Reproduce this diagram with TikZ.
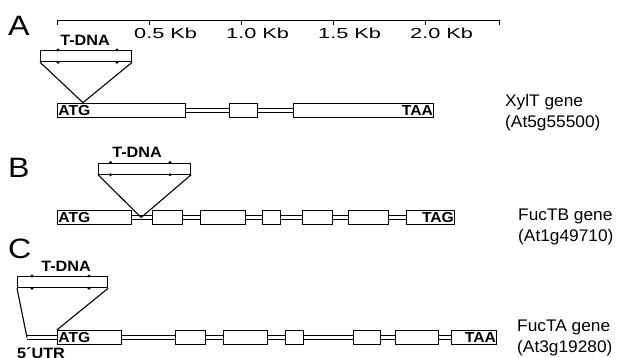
\documentclass[tikz,border=0pt]{standalone}
\usepackage{fontspec}
\setmainfont{Liberation Sans}
\newfontfamily\panelfont[FakeStretch=1.15]{Liberation Sans}
\newfontfamily\kbfont[FakeStretch=1.5]{Liberation Sans}
\newfontfamily\labfont[FakeStretch=1.08]{Liberation Sans}
\newfontfamily\genefont[FakeStretch=1.03]{Liberation Sans}
\usetikzlibrary{calc,backgrounds}

% an intron: two thin parallel lines between two exons
\newcommand{\intronlink}[2]{%
  \draw[intron] ([yshift=1.7pt]#1) -- ([yshift=1.7pt]#2);
  \draw[intron] ([yshift=-1.7pt]#1) -- ([yshift=-1.7pt]#2);}

\begin{document}
\begin{tikzpicture}[x=1pt,y=-1pt,
  exon/.style={draw, fill=white, line width=1.3pt, minimum height=14pt, inner sep=0pt, anchor=west},
  intron/.style={line width=0.9pt},
  tdna/.style={draw, line width=1.2pt, minimum height=11pt, inner sep=0pt, anchor=north west},
  ins/.style={line width=1.1pt},
  bar/.style={line width=1pt},
  kb/.style={font=\kbfont\fontsize{14.5}{16}\selectfont, anchor=base west, inner sep=0pt},
  panel/.style={font=\panelfont\fontsize{28}{30}\selectfont, anchor=base west, inner sep=0pt},
  tlabel/.style={font=\labfont\bfseries\fontsize{15}{17}\selectfont, anchor=base, inner sep=0pt},
  codon/.style={font=\labfont\bfseries\fontsize{14.5}{16}\selectfont, inner sep=1.2pt},
  gene/.style={font=\genefont\fontsize{16.8}{19}\selectfont, anchor=base west, inner sep=0pt},
  lbdot/.style={radius=1.6pt}
]
\useasboundingbox (0,0) rectangle (618,357);

% ---- scale bar ----
\coordinate (s0) at (57,20);
\coordinate (s5) at (499,20);
\draw[bar] (s0) -- (s5);
\foreach \x in {57,149,241,333,425,499} \draw[bar] (\x,19.5) -- (\x,25);
\node[kb] (k1) at (134,38.5) {0.5 Kb};
\node[kb] (k2) at (226,38.5) {1.0 Kb};
\node[kb] (k3) at (318,38.5) {1.5 Kb};
\node[kb] (k4) at (410,38.5) {2.0 Kb};

% ---- panel letters ----
\node[panel] (pA) at (8,35) {A};
\node[panel] (pB) at (8,177) {B};
\node[panel] (pC) at (8,258) {C};

% ---- A: XylT ----
\node[exon, minimum width=128pt] (a1) at (57,110.3) {};
\node[exon, minimum width=28pt]  (a2) at (229,110.3) {};
\node[exon, minimum width=140pt] (a3) at (293,110.3) {};
\node[codon, anchor=west] (atgA) at (a1.west) {ATG};
\node[codon, anchor=east] (taaA) at (a3.east) {TAA};
\begin{scope}[on background layer]
  \intronlink{a1.east}{a2.west}
  \intronlink{a2.east}{a3.west}
\end{scope}
\node[tdna, minimum width=91pt] (tA) at (40,50) {};
\node[tlabel] (tlA) at (85,45.5) {T-DNA};
\foreach \d in {18,77} {
  \fill ($(tA.north west)+(\d,0)$) circle[lbdot];
  \fill ($(tA.south west)+(\d,0)$) circle[lbdot];
}
\coordinate (apA) at ($(a1.north west)+(26,0)$);
\draw[ins] (tA.south west) -- (apA) -- (tA.south east);
\node[gene] (gA) at (505,106) {XylT gene};
\node[gene] (iA) at (505,127.5) {(At5g55500)};

% ---- B: FucTB ----
\node[exon, minimum width=74pt] (b1) at (57,217.5) {};
\node[exon, minimum width=30pt] (b2) at (152,217.5) {};
\node[exon, minimum width=45pt] (b3) at (200,217.5) {};
\node[exon, minimum width=18pt] (b4) at (262,217.5) {};
\node[exon, minimum width=30pt] (b5) at (302,217.5) {};
\node[exon, minimum width=40pt] (b6) at (348,217.5) {};
\node[exon, minimum width=48pt] (b7) at (406,217.5) {};
\node[codon, anchor=west] (atgB) at (b1.west) {ATG};
\node[codon, anchor=east] (tagB) at (b7.east) {TAG};
\begin{scope}[on background layer]
  \intronlink{b1.east}{b2.west}
  \intronlink{b2.east}{b3.west}
  \intronlink{b3.east}{b4.west}
  \intronlink{b4.east}{b5.west}
  \intronlink{b5.east}{b6.west}
  \intronlink{b6.east}{b7.west}
\end{scope}
\node[tdna, minimum width=92pt] (tB) at (98,162.5) {};
\node[tlabel] (tlB) at (137,157) {T-DNA};
\foreach \d in {12.5,72} {
  \fill ($(tB.north west)+(\d,0)$) circle[lbdot];
  \fill ($(tB.south west)+(\d,0)$) circle[lbdot];
}
\coordinate (apB) at ($(b1.east)!0.45!(b2.west)$);
\draw[ins] (tB.south west) -- (apB) -- (tB.south east);
\node[gene] (gB) at (518,220) {FucTB gene};
\node[gene] (iB) at (518,241.5) {(At1g49710)};

% ---- C: FucTA ----
\node[exon, minimum width=64pt] (c1) at (57,337.5) {};
\node[exon, minimum width=30pt] (c2) at (175,337.5) {};
\node[exon, minimum width=44pt] (c3) at (223,337.5) {};
\node[exon, minimum width=18pt] (c4) at (285,337.5) {};
\node[exon, minimum width=27pt] (c5) at (353,337.5) {};
\node[exon, minimum width=43pt] (c6) at (395,337.5) {};
\node[exon, minimum width=45pt] (c7) at (451,337.5) {};
\node[codon, anchor=west] (atgC) at (c1.west) {ATG};
\node[codon, anchor=east] (taaC) at (c7.east) {TAA};
\coordinate (utr) at (27,337.5);
\begin{scope}[on background layer]
  \intronlink{utr}{c1.west}
  \intronlink{c1.east}{c2.west}
  \intronlink{c2.east}{c3.west}
  \intronlink{c3.east}{c4.west}
  \intronlink{c4.east}{c5.west}
  \intronlink{c5.east}{c6.west}
  \intronlink{c6.east}{c7.west}
\end{scope}
\node[tdna, minimum width=90pt] (tC) at (17,276) {};
\node[tlabel] (tlC) at (66,271) {T-DNA};
\foreach \d in {15,72} {
  \fill ($(tC.north west)+(\d,0)$) circle[lbdot];
  \fill ($(tC.south west)+(\d,0)$) circle[lbdot];
}
\draw[ins] (tC.south west) -- (utr);
\draw[ins] (tC.south east) -- (c1.north west);
\node[tlabel, anchor=base west] (utrl) at (17,358.5) {5´UTR};
\node[gene] (gC) at (517,331.7) {FucTA gene};
\node[gene] (iC) at (517,352.5) {(At3g19280)};
\end{tikzpicture}
\end{document}
